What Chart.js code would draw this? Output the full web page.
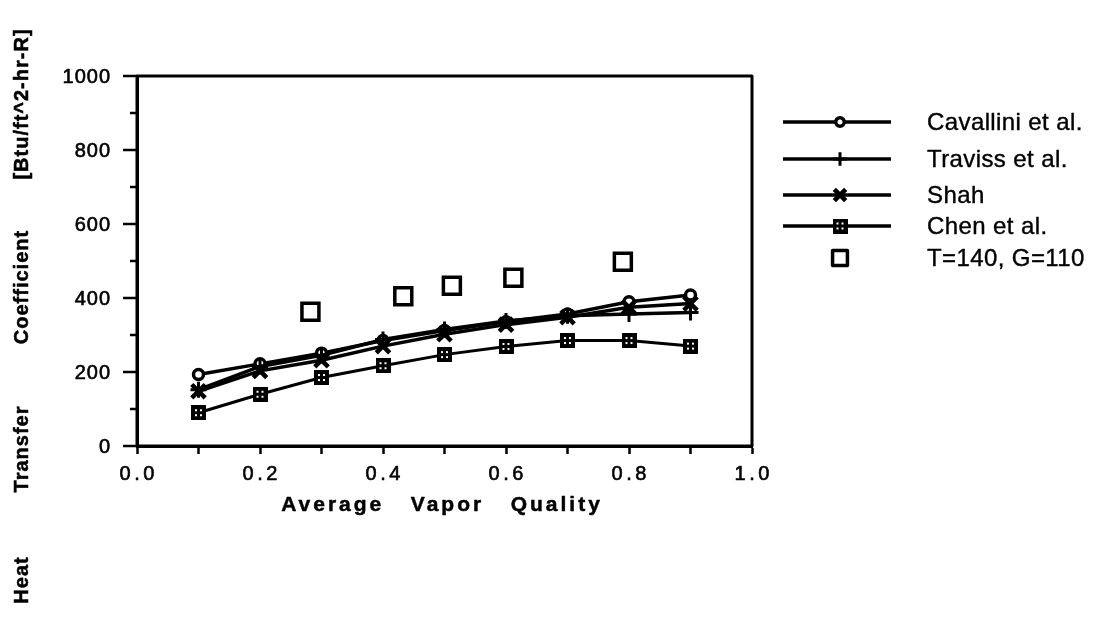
<!DOCTYPE html>
<html>
<head>
<meta charset="utf-8">
<title>Heat Transfer Coefficient vs Average Vapor Quality</title>
<script src="https://cdn.jsdelivr.net/npm/chart.js@4.4.0/dist/chart.umd.min.js"></script>
<style>
  html, body { margin: 0; padding: 0; background: #fff; }
  #chart { display: block; }
</style>
</head>
<body>
<canvas id="chart" width="1094" height="627"></canvas>
<script>
// values
const quality = [0.1, 0.2, 0.3, 0.4, 0.5, 0.6, 0.7, 0.8, 0.9];
const cavallini = [193, 222, 251, 285, 312, 336, 357, 390, 408];
const traviss = [152, 215, 245, 288, 315, 338, 352, 357, 361];
const shah = [148, 203, 232, 270, 302, 328, 348, 375, 385];
const chen = [90, 140, 185, 217, 247, 269, 285, 285, 270];
const expQuality = [0.282, 0.433, 0.512, 0.612, 0.790];
const expCoeff = [363, 405, 433, 455, 498];

const seriesNames = ['Cavallini et al.', 'Traviss et al.', 'Shah', 'Chen et al.', 'T=140, G=110'];
const xTickLabels = ['0.0', '0.2', '0.4', '0.6', '0.8', '1.0'];
const yTickLabels = ['0', '200', '400', '600', '800', '1000'];
const yTitleWords = ['Heat', 'Transfer', 'Coefficient', '[Btu/ft^2-hr-R]'];
const xTitle = 'Average   Vapor   Quality';

const FONT = '"Liberation Sans", Arial, Helvetica, sans-serif';

function chenMarker() {
  const c = document.createElement('canvas');
  c.width = c.height = 15;
  const g = c.getContext('2d');
  g.fillStyle = '#000';
  g.fillRect(0, 0, 15, 15);
  g.fillStyle = '#fff';
  [[4, 4], [9, 4], [4, 9], [9, 9]].forEach(([a, b]) => g.fillRect(a, b, 2, 2));
  return c;
}

const pts = (xs, ys) => xs.map((x, i) => ({ x, y: ys[i] }));

const styles = [
  { pointStyle: 'circle', radius: 5, borderWidth: 3.5, lineWidth: 3.5, bg: '#fff' },
  { pointStyle: 'cross', radius: 8, borderWidth: 3, lineWidth: 3.5, bg: '#000' },
  { pointStyle: 'crossRot', radius: 9.5, borderWidth: 4.5, lineWidth: 3.5, bg: '#000' },
  { pointStyle: chenMarker(), radius: 7, borderWidth: 1, lineWidth: 3, bg: '#000' },
  { pointStyle: 'rect', radius: 12, borderWidth: 3.5, lineWidth: 0, bg: '#fff' },
];

const seriesData = [
  pts(quality, cavallini),
  pts(quality, traviss),
  pts(quality, shah),
  pts(quality, chen),
  pts(expQuality, expCoeff),
];

const datasets = seriesData.map((d, i) => ({
  label: seriesNames[i],
  data: d,
  showLine: i < 4,
  borderColor: '#000',
  backgroundColor: styles[i].bg,
  borderWidth: styles[i].lineWidth,
  pointStyle: styles[i].pointStyle,
  pointRadius: styles[i].radius,
  pointBorderWidth: styles[i].borderWidth,
  pointBackgroundColor: styles[i].bg,
  pointBorderColor: '#000',
  tension: 0,
})).reverse();

// scanned type looks heavy, so fill and lightly stroke it
function heavyText(ctx, text, x, y, weight) {
  ctx.fillText(text, x, y);
  ctx.lineWidth = weight;
  ctx.strokeText(text, x, y);
}

const decor = {
  id: 'decor',
  afterDraw(chart) {
    const { ctx, chartArea: a, scales: { x, y } } = chart;
    ctx.save();
    ctx.strokeStyle = '#000';
    ctx.fillStyle = '#000';
    ctx.lineJoin = 'round';

    // plot frame
    ctx.lineWidth = 3;
    ctx.strokeRect(a.left, a.top, a.right - a.left, a.bottom - a.top);

    // y ticks: long at labelled values, short between
    ctx.lineWidth = 2.5;
    y.ticks.forEach(t => {
      const py = y.getPixelForValue(t.value);
      const len = Math.round(t.value) % 200 === 0 ? 14 : 7;
      ctx.beginPath();
      ctx.moveTo(a.left - len, py);
      ctx.lineTo(a.left, py);
      ctx.stroke();
    });

    // y tick labels
    ctx.font = '20px ' + FONT;
    ctx.letterSpacing = '1px';
    ctx.textAlign = 'right';
    ctx.textBaseline = 'middle';
    yTickLabels.forEach(l => {
      heavyText(ctx, l, a.left - 26, y.getPixelForValue(Number(l)) + 1, 0.6);
    });

    // x tick labels
    ctx.letterSpacing = '3.5px';
    ctx.textAlign = 'center';
    ctx.textBaseline = 'alphabetic';
    xTickLabels.forEach(l => {
      heavyText(ctx, l, x.getPixelForValue(parseFloat(l)) + 1.75, 480, 0.6);
    });

    // x title
    ctx.font = 'bold 21px ' + FONT;
    ctx.letterSpacing = '3px';
    heavyText(ctx, xTitle, 442, 511, 0.5);

    // y title, rotated
    ctx.textBaseline = 'middle';
    ctx.font = 'bold 20px ' + FONT;
    ctx.letterSpacing = '1px';
    const centres = [580, 449, 287, 104];
    yTitleWords.forEach((w, i) => {
      ctx.save();
      ctx.translate(22, centres[i]);
      ctx.rotate(-Math.PI / 2);
      heavyText(ctx, w, 0, 0, 0.5);
      ctx.restore();
    });

    // legend
    const rows = [122, 159, 195, 226, 258];
    ctx.font = '24px ' + FONT;
    ctx.letterSpacing = '0.4px';
    ctx.textAlign = 'left';
    seriesNames.forEach((name, i) => {
      const ry = rows[i];
      const s = styles[i];
      if (i < 4) {
        ctx.lineWidth = 3.5;
        ctx.beginPath();
        ctx.moveTo(783, ry);
        ctx.lineTo(891, ry);
        ctx.stroke();
      }
      ctx.fillStyle = s.bg;
      ctx.lineWidth = s.borderWidth;
      Chart.helpers.drawPoint(ctx, {
        pointStyle: s.pointStyle,
        radius: i === 4 ? 10.5 : s.radius * 0.85,
        borderWidth: s.borderWidth,
        rotation: 0,
      }, 840, ry);
      ctx.fillStyle = '#000';
      heavyText(ctx, name, 927, ry + 1, 0.4);
    });
    ctx.restore();
  },
};

new Chart(document.getElementById('chart'), {
  type: 'line',
  data: { datasets },
  options: {
    responsive: false,
    animation: false,
    devicePixelRatio: 1,
    layout: { padding: { left: 0, right: 342, top: 76, bottom: 0 } },
    plugins: { legend: { display: false }, tooltip: { enabled: false } },
    scales: {
      x: {
        type: 'linear',
        min: 0,
        max: 1,
        afterFit: s => { s.height = 181; },
        ticks: { stepSize: 0.1, callback: () => '' },
        grid: {
          drawOnChartArea: false,
          drawTicks: true,
          tickLength: 8,
          tickWidth: 2.5,
          tickColor: '#000',
        },
        border: { display: true, color: '#000', width: 3 },
      },
      y: {
        min: 0,
        max: 1000,
        afterFit: s => { s.width = 137; },
        ticks: { stepSize: 100, callback: () => '' },
        grid: { display: false, drawTicks: false },
        border: { display: true, color: '#000', width: 3 },
      },
    },
  },
  plugins: [decor],
});
</script>
</body>
</html>
